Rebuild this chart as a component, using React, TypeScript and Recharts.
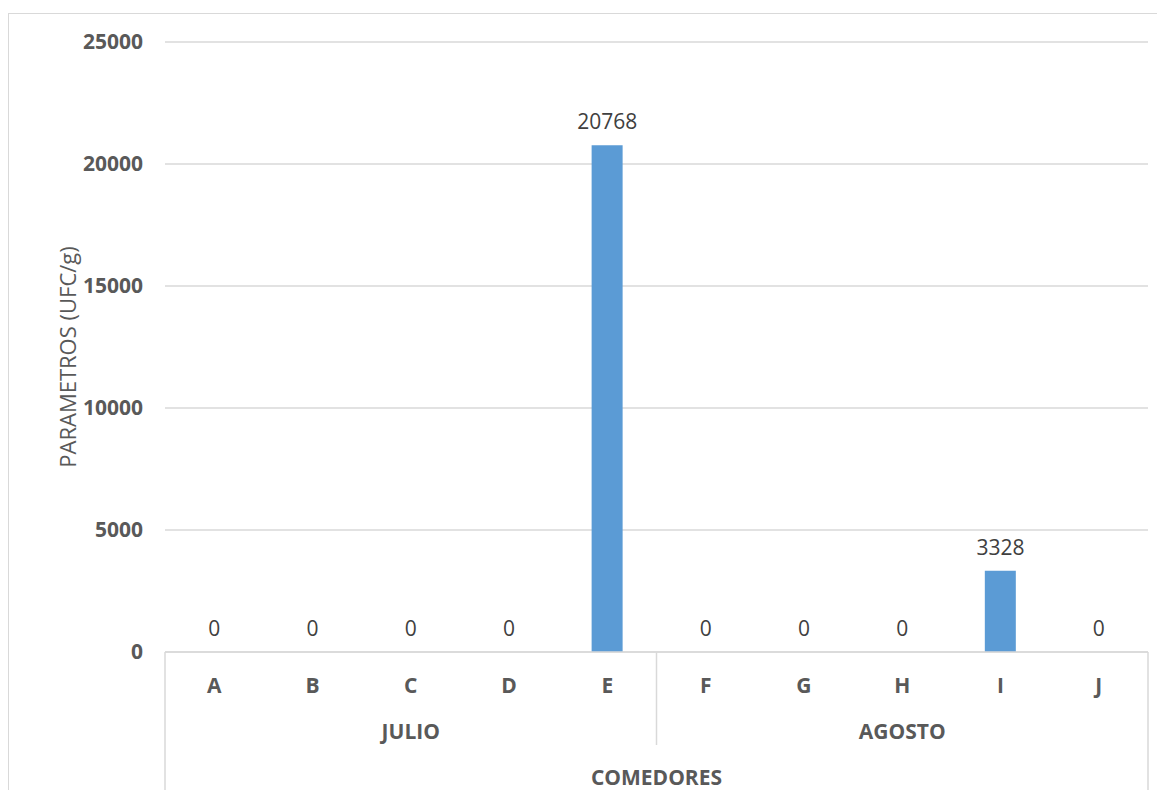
import { Bar, CartesianGrid, ComposedChart, LabelList, Line, XAxis, YAxis } from "recharts";

const categories = ["A", "B", "C", "D", "E", "F", "G", "H", "I", "J"];
const months = ["JULIO", "JULIO", "JULIO", "JULIO", "JULIO", "AGOSTO", "AGOSTO", "AGOSTO", "AGOSTO", "AGOSTO"];
const values = [0, 0, 0, 0, 20768, 0, 0, 0, 3328, 0];
const yTicks = [0, 5000, 10000, 15000, 20000, 25000];
const groupBounds = [0, 5, 10];
const groupName = "COMEDORES";

const data = categories.map((name, i) => ({
  name,
  month: months[i],
  group: groupName,
  value: values[i],
  pos: i + 0.5,
}));

const FONT = "'Open Sans', sans-serif";
const GRID = "#d9d9d9";
const TEXT = "#595959";

function CenterTick({ x, y, payload, dy }: any) {
  return (
    <text
      x={x}
      y={y + dy}
      textAnchor="middle"
      dominantBaseline="central"
      fill={TEXT}
      fontSize={21}
      fontWeight="bold"
      fontFamily={FONT}
    >
      {payload.value}
    </text>
  );
}

// separator lines of the category axis, drawn from the bottom axis upward
function SepTick({ x, y, payload }: any) {
  const outer = payload.value === groupBounds[0] || payload.value === groupBounds[groupBounds.length - 1];
  return <line x1={x} x2={x} y1={y - 142} y2={outer ? y - 1 : y - 49} stroke={GRID} strokeWidth={1.5} />;
}

function YTitle({ viewBox }: any) {
  const cx = viewBox.x + 59;
  const cy = viewBox.y + viewBox.height / 2 + 10;
  return (
    <text
      x={cx}
      y={cy}
      transform={`rotate(-90, ${cx}, ${cy})`}
      textAnchor="middle"
      dominantBaseline="central"
      fill={TEXT}
      fontSize={22}
      fontFamily={FONT}
    >
      PARAMETROS (UFC/g)
    </text>
  );
}

export default function App() {
  return (
    <div
      style={{
        position: "relative",
        width: 1157,
        height: 790,
        marginBottom: -8,
        marginRight: -8,
        overflow: "hidden",
        fontFamily: FONT,
      }}
    >
      <div
        style={{
          position: "absolute",
          top: 5,
          left: 0,
          width: 1200,
          height: 900,
          borderTop: `1.5px solid ${GRID}`,
          borderLeft: `1.5px solid ${GRID}`,
        }}
      />
      <ComposedChart
        width={1157}
        height={790}
        data={data}
        margin={{ top: 34, right: 17, bottom: 0, left: 0 }}
        barCategoryGap="34%"
      >
        <CartesianGrid vertical={false} stroke={GRID} strokeWidth={1.5} />
        <YAxis
          width={157}
          domain={[0, 25000]}
          ticks={yTicks}
          interval={0}
          axisLine={false}
          tickLine={false}
          tickMargin={16}
          tick={{ fill: TEXT, fontSize: 21, fontWeight: "bold", fontFamily: FONT }}
          label={<YTitle />}
        />
        <XAxis
          xAxisId="x0"
          dataKey="name"
          height={46}
          interval={0}
          tickSize={0}
          tickMargin={0}
          tickLine={false}
          axisLine={{ stroke: GRID, strokeWidth: 1.5 }}
          tick={<CenterTick dy={33} />}
        />
        <XAxis
          xAxisId="x1"
          dataKey="month"
          allowDuplicatedCategory={false}
          height={46}
          interval={0}
          tickSize={0}
          tickMargin={0}
          tickLine={false}
          axisLine={false}
          tick={<CenterTick dy={33} />}
        />
        <XAxis
          xAxisId="x2"
          dataKey="group"
          allowDuplicatedCategory={false}
          height={50}
          interval={0}
          tickSize={0}
          tickMargin={0}
          tickLine={false}
          axisLine={false}
          tick={<CenterTick dy={33} />}
        />
        <XAxis
          xAxisId="x3"
          dataKey="pos"
          type="number"
          domain={[0, categories.length]}
          allowDataOverflow
          ticks={groupBounds}
          height={4}
          interval={0}
          tickSize={0}
          tickMargin={0}
          tickLine={false}
          axisLine={false}
          tick={<SepTick />}
        />
        <Bar xAxisId="x0" dataKey="value" fill="#5B9BD5" isAnimationActive={false} />
        {/* invisible line only to carry the value labels, including the zeros */}
        <Line
          xAxisId="x0"
          dataKey="value"
          stroke="none"
          dot={false}
          activeDot={false}
          isAnimationActive={false}
        >
          <LabelList
            dataKey="value"
            position="top"
            offset={16}
            fill="#404040"
            fontSize={21}
            fontFamily={FONT}
          />
        </Line>
      </ComposedChart>
    </div>
  );
}
